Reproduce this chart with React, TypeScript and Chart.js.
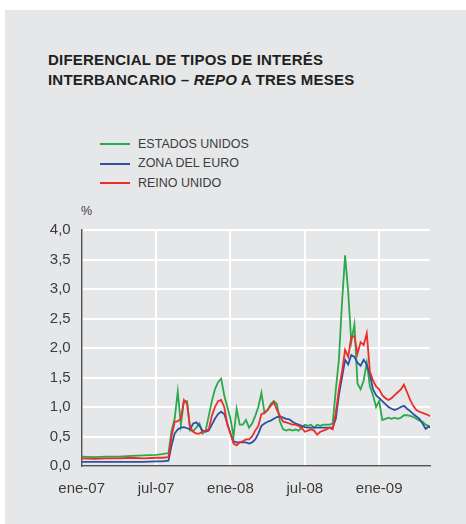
import React, { useEffect, useRef } from "react";
import { Chart, registerables } from "chart.js";

Chart.register(...registerables);

// x positions in months since January 2007
const months = [
  0, 1, 2, 3, 4, 5, 6, 6.5,
  7, 7.25, 7.5, 7.75, 8, 8.25, 8.5, 8.75, 9, 9.25, 9.5, 9.75,
  10, 10.25, 10.5, 10.75, 11, 11.25, 11.5, 11.75, 12, 12.25, 12.5, 12.75,
  13, 13.25, 13.5, 13.75, 14, 14.25, 14.5, 14.75, 15, 15.25, 15.5, 15.75,
  16, 16.25, 16.5, 16.75, 17, 17.25, 17.5, 17.75, 18, 18.25, 18.5, 18.75,
  19, 19.25, 19.5, 19.75, 20, 20.25, 20.5, 20.75, 21, 21.25, 21.5, 21.75,
  22, 22.25, 22.5, 22.75, 23, 23.25, 23.5, 23.75, 24, 24.25, 24.5, 24.75,
  25, 25.25, 25.5, 25.75, 26, 26.25, 26.5, 26.75, 27, 27.25, 27.5, 27.75,
  28, 28.1,
];

const estadosUnidos = [
  0.16, 0.15, 0.16, 0.16, 0.17, 0.18, 0.19, 0.2,
  0.22, 0.6, 0.8, 1.26, 0.7, 1.1, 1.1, 0.6, 0.6, 0.65, 0.72, 0.55,
  0.6, 0.85, 1.1, 1.3, 1.42, 1.48, 1.2, 1.0, 0.8, 0.5, 0.97, 0.7,
  0.7, 0.78, 0.65, 0.72, 0.85, 1.0, 1.24, 0.9, 0.95, 1.05, 1.1, 1.05,
  0.75, 0.62, 0.6, 0.62, 0.6, 0.62, 0.6, 0.65, 0.7, 0.68, 0.7, 0.65,
  0.7, 0.68, 0.7, 0.7, 0.7, 0.72, 1.29, 1.8, 2.76, 3.57, 2.95, 2.1,
  2.4, 1.4, 1.3, 1.45, 1.75, 1.35, 1.2, 1.0, 1.1, 0.78, 0.8, 0.82,
  0.8, 0.82, 0.8, 0.82, 0.86, 0.86, 0.85, 0.83, 0.8, 0.77, 0.75, 0.7,
  0.68, 0.65,
];

const zonaEuro = [
  0.07, 0.07, 0.07, 0.07, 0.07, 0.07, 0.08, 0.08,
  0.09, 0.35, 0.55, 0.62, 0.65, 0.66, 0.64, 0.62, 0.72, 0.74, 0.68, 0.6,
  0.58, 0.6, 0.7, 0.8, 0.88, 0.92, 0.88, 0.72, 0.55, 0.42, 0.4, 0.4,
  0.4, 0.4, 0.38, 0.4, 0.45, 0.55, 0.68, 0.72, 0.75, 0.77, 0.8, 0.83,
  0.84, 0.82, 0.8, 0.79, 0.75, 0.72, 0.7, 0.68, 0.66, 0.65, 0.65, 0.65,
  0.65, 0.65, 0.65, 0.65, 0.65, 0.65, 0.8, 1.2, 1.5, 1.8, 1.72, 1.88,
  1.85, 1.75, 1.7, 1.8, 1.72, 1.55, 1.3, 1.2, 1.15, 1.1, 1.05, 1.0,
  0.97, 0.95, 0.97, 1.0, 1.02, 0.97, 0.93, 0.88, 0.84, 0.8, 0.72, 0.63,
  0.67, 0.65,
];

const reinoUnido = [
  0.13, 0.12, 0.13, 0.13, 0.14, 0.13, 0.14, 0.14,
  0.15, 0.5, 0.75, 0.76, 0.8, 1.12, 1.05, 0.65, 0.58, 0.55, 0.55, 0.58,
  0.6, 0.62, 0.85, 1.0, 1.1, 1.12, 1.0, 0.7, 0.55, 0.38, 0.35, 0.4,
  0.42, 0.45, 0.45, 0.5, 0.6, 0.68, 0.88, 0.9, 0.95, 1.02, 1.08, 0.95,
  0.85, 0.75, 0.74, 0.72, 0.7, 0.7, 0.68, 0.64, 0.58, 0.6, 0.62, 0.6,
  0.53, 0.58, 0.6, 0.62, 0.65, 0.62, 0.9, 1.3, 1.6, 1.97, 1.85, 2.19,
  2.2, 1.9, 2.1, 2.05, 2.25, 1.6, 1.45, 1.35, 1.3, 1.2, 1.15, 1.12,
  1.15, 1.2, 1.25, 1.3, 1.38, 1.25, 1.12, 1.02, 0.95, 0.92, 0.9, 0.88,
  0.86, 0.84,
];

const tickMonths = [0, 6, 12, 18, 24];
const tickLabels = ["ene-07", "jul-07", "ene-08", "jul-08", "ene-09"];

const seriesNames = ["ESTADOS UNIDOS", "ZONA DEL EURO", "REINO UNIDO"];
const seriesColors = ["#2aa84a", "#2c4fa3", "#ec2d2a"];

const FONT = "'Liberation Sans', Arial, Helvetica, sans-serif";
const BG = "#e6e7e9";

export default function App() {
  const canvasRef = useRef<HTMLCanvasElement | null>(null);

  useEffect(() => {
    const canvas = canvasRef.current;
    if (!canvas) return;
    const mk = (vals: number[]) => vals.map((v, i) => ({ x: months[i], y: v }));
    const chart = new Chart(canvas, {
      type: "line",
      data: {
        datasets: [
          { label: seriesNames[2], data: mk(reinoUnido), borderColor: seriesColors[2] },
          { label: seriesNames[1], data: mk(zonaEuro), borderColor: seriesColors[1] },
          { label: seriesNames[0], data: mk(estadosUnidos), borderColor: seriesColors[0] },
        ],
      },
      options: {
        responsive: false,
        animation: false,
        layout: { padding: { top: 30, right: 36, bottom: 18, left: 0 } },
        plugins: { legend: { display: false }, tooltip: { enabled: false } },
        elements: {
          point: { radius: 0 },
          line: { tension: 0, borderWidth: 1.8, fill: false },
        },
        scales: {
          x: {
            type: "linear",
            min: 0,
            max: 28.1,
            afterBuildTicks: (s: any) => {
              s.ticks = tickMonths.map((v) => ({ value: v }));
            },
            afterFit: (s: any) => {
              s.height = 40;
            },
            ticks: {
              autoSkip: false,
              maxRotation: 0,
              padding: 14,
              color: "#3c3c3c",
              font: { family: FONT, size: 15 },
              callback: (v: any) => {
                const i = tickMonths.indexOf(Number(v));
                return i >= 0 ? tickLabels[i] : "";
              },
            },
            grid: { color: "#ffffff", lineWidth: 2, drawTicks: false },
            border: { color: "#555555", width: 1.5 },
          },
          y: {
            min: 0,
            max: 4,
            afterFit: (s: any) => {
              s.width = 76.7;
            },
            ticks: {
              stepSize: 0.5,
              padding: 11,
              color: "#3c3c3c",
              font: { family: FONT, size: 15 },
              callback: (v: any) => Number(v).toFixed(1).replace(".", ","),
            },
            grid: { color: "#ffffff", lineWidth: 2, drawTicks: false },
            border: { color: "#555555", width: 1.5 },
          },
        },
      },
    } as any);
    return () => chart.destroy();
  }, []);

  return (
    <div
      style={{
        position: "absolute",
        left: 0,
        top: 0,
        width: 466,
        height: 524,
        background: "#ffffff",
        fontFamily: FONT,
        overflow: "hidden",
      }}
    >
      <div
        style={{
          position: "absolute",
          left: 5,
          top: 10,
          width: 461,
          height: 514,
          background: BG,
        }}
      />
      <div
        style={{
          position: "absolute",
          left: 48,
          top: 50,
          fontSize: 15,
          lineHeight: "19.5px",
          fontWeight: 700,
          letterSpacing: 0.2,
          color: "#231f20",
          whiteSpace: "nowrap",
        }}
      >
        <div>DIFERENCIAL DE TIPOS DE INTERÉS</div>
        <div>
          INTERBANCARIO – <i>REPO</i> A TRES MESES
        </div>
      </div>
      {seriesNames.map((name, i) => (
        <div
          key={name}
          style={{
            position: "absolute",
            left: 100,
            top: 134.5 + i * 19.5,
            height: 19.5,
            display: "flex",
            alignItems: "center",
            whiteSpace: "nowrap",
          }}
        >
          <div style={{ width: 30, height: 1.6, background: seriesColors[i] }} />
          <div
            style={{
              marginLeft: 8,
              fontSize: 12.5,
              lineHeight: "19.5px",
              color: "#3c3c3c",
            }}
          >
            {name}
          </div>
        </div>
      ))}
      <div
        style={{
          position: "absolute",
          left: 81,
          top: 203,
          fontSize: 12.5,
          lineHeight: "16px",
          color: "#3c3c3c",
        }}
      >
        %
      </div>
      <canvas
        ref={canvasRef}
        width={461}
        height={324}
        style={{ position: "absolute", left: 5, top: 200, width: 461, height: 324 }}
      />
    </div>
  );
}
